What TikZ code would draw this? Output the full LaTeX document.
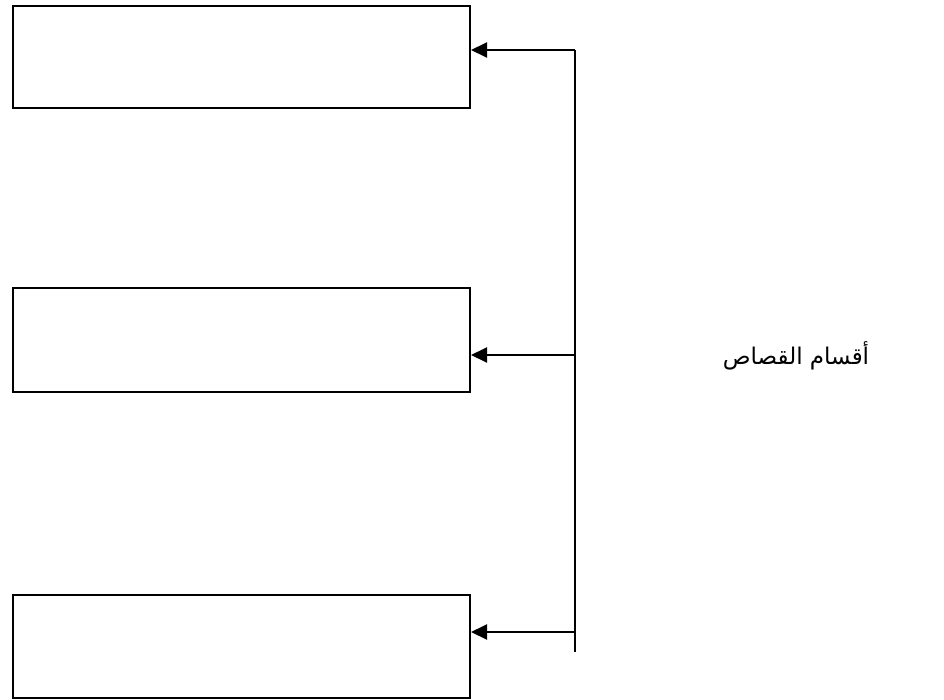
\documentclass[tikz,border=0pt]{standalone}
\usepackage{fontspec}
\newfontfamily\arabicfont[Script=Arabic]{DejaVu Sans}
\TeXXeTstate=1
\usetikzlibrary{arrows.meta}
\begin{document}
\begin{tikzpicture}[x=1pt,y=-1pt,
  box/.style={draw,line width=2pt,minimum width=457pt,minimum height=102pt,inner sep=0pt,anchor=north west},
  conn/.style={line width=2pt},
  arr/.style={line width=2pt,-{Triangle[length=16pt,width=15pt]}}]
\useasboundingbox (0,0) rectangle (944,699);
\node[box] (b1) at (12,5) {};
\node[box,minimum height=104pt] (b2) at (12,287) {};
\node[box,minimum height=103pt] (b3) at (12,594) {};
\coordinate (t) at (574.5,50);
\coordinate (m) at (574.5,355);
\coordinate (l) at (574.5,632);
\coordinate (e) at (574.5,652);
\draw[conn] (t) -- (e);
\draw[arr] (t) -- (b1.east |- t);
\draw[arr] (m) -- (b2.east |- m);
\draw[arr] (l) -- (b3.east |- l);
\node[font=\arabicfont\fontsize{23}{28}\selectfont] (lab) at (796,356) {\beginR أقسام القصاص\endR};
\end{tikzpicture}
\end{document}
